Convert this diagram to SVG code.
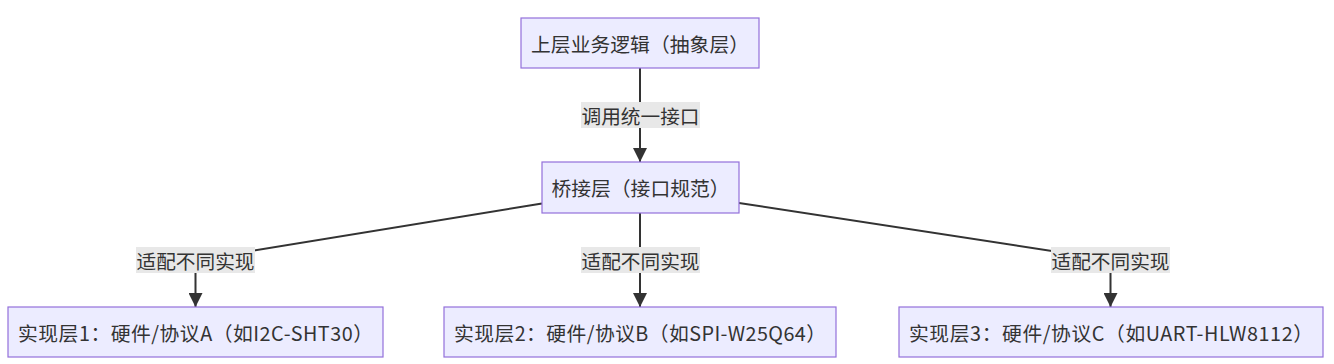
<svg xmlns="http://www.w3.org/2000/svg" width="1334" height="364" viewBox="0 0 1334 364">
<style>
.node rect{fill:#ECECFF;stroke:#9370DB;stroke-width:1.2}
text{font-family:"Noto Sans CJK SC","Microsoft YaHei","Liberation Sans",sans-serif;font-size:19.8px;fill:#333;text-anchor:middle;dominant-baseline:central}
.edge{fill:none;stroke:#333;stroke-width:2}
.lbl rect{fill:#e8e8e8}
</style>
<defs>
<marker id="arr" viewBox="0 0 10 10" refX="10" refY="5" markerWidth="14" markerHeight="14" markerUnits="userSpaceOnUse" orient="auto">
<path d="M0,0 L10,5 L0,10 z" fill="#333"/>
</marker>
</defs>
<rect width="1334" height="364" fill="#fff"/>
<g id="connectors">
<path class="edge" d="M640,68 L640,162" marker-end="url(#arr)"/>
<path class="edge" d="M542,203.5 L195.5,260 L195.5,307" marker-end="url(#arr)"/>
<path class="edge" d="M640,213 L640,307" marker-end="url(#arr)"/>
<path class="edge" d="M739,203 L1110.5,260 L1110.5,307" marker-end="url(#arr)"/>
<g class="lbl"><rect x="581" y="102" width="119" height="26"/><text x="640.5" y="115" textLength="118" lengthAdjust="spacingAndGlyphs">调用统一接口</text></g>
<g class="lbl"><rect x="136" y="247" width="119" height="26"/><text x="195.5" y="260" textLength="118" lengthAdjust="spacingAndGlyphs">适配不同实现</text></g>
<g class="lbl"><rect x="581" y="247" width="119" height="26"/><text x="640.5" y="260" textLength="118" lengthAdjust="spacingAndGlyphs">适配不同实现</text></g>
<g class="lbl"><rect x="1051" y="247" width="119" height="26"/><text x="1110.5" y="260" textLength="118" lengthAdjust="spacingAndGlyphs">适配不同实现</text></g>
</g>
<g id="top" class="node"><rect x="521" y="18" width="238" height="50"/><text x="640" y="43" textLength="218">上层业务逻辑（抽象层）</text></g>
<g id="bridge" class="node"><rect x="542" y="162" width="197" height="51"/><text x="640.5" y="187.5" textLength="178">桥接层（接口规范）</text></g>
<g id="impl1" class="node"><rect x="8" y="307" width="375" height="50"/><text x="195.5" y="332" textLength="355">实现层1：硬件/协议A（如I2C-SHT30）</text></g>
<g id="impl2" class="node"><rect x="444" y="307" width="392" height="50"/><text x="640" y="332" textLength="372">实现层2：硬件/协议B（如SPI-W25Q64）</text></g>
<g id="impl3" class="node"><rect x="899" y="307" width="424" height="50"/><text x="1111" y="332" textLength="404">实现层3：硬件/协议C（如UART-HLW8112）</text></g>
</svg>
